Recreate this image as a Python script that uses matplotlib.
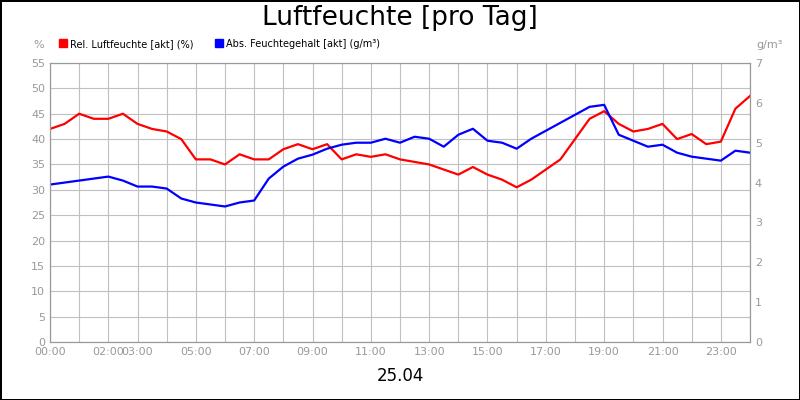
import matplotlib.pyplot as plt
import numpy as np

hours = np.arange(0, 24.01, 0.5)
rel_hum = [42, 43, 45, 44, 44, 45, 43, 42, 41.5, 40, 36, 36, 35, 37, 36, 36,
           38, 39, 38, 39, 36, 37, 36.5, 37, 36, 35.5, 35, 34, 33, 34.5, 33,
           32, 30.5, 32, 34, 36, 40, 44, 45.5, 43, 41.5, 42, 43, 40, 41, 39,
           39.5, 46, 48.5]
abs_hum = [3.95, 4.0, 4.05, 4.1, 4.15, 4.05, 3.9, 3.9, 3.85, 3.6, 3.5, 3.45,
           3.4, 3.5, 3.55, 4.1, 4.4, 4.6, 4.7, 4.85, 4.95, 5.0, 5.0, 5.1, 5.0,
           5.15, 5.1, 4.9, 5.2, 5.35, 5.05, 5.0, 4.85, 5.1, 5.3, 5.5, 5.7, 5.9,
           5.95, 5.2, 5.05, 4.9, 4.95, 4.75, 4.65, 4.6, 4.55, 4.8, 4.75]
tick_hours = [0, 2, 3, 5, 7, 9, 11, 13, 15, 17, 19, 21, 23]

fig = plt.figure(figsize=(8, 4), dpi=100)
fig.patch.set_edgecolor("black")
fig.patch.set_linewidth(2)
ax = fig.add_axes([0.0625, 0.145, 0.875, 0.6975])
ax.plot(hours, rel_hum, color="#ff0000", lw=1.6)
ax.set_xlim(0, 24)
ax.set_ylim(0, 55)
ax.set_yticks(range(0, 56, 5))
ax.set_xticks(range(0, 25), minor=True)
ax.set_xticks(tick_hours)
ax.set_xticklabels([f"{h:02d}:00" for h in tick_hours])
ax.grid(True, which="both", color="#c0c0c0", lw=0.8)
ax.set_axisbelow(True)
ax.tick_params(colors="#999999", labelsize=8, length=0, which="both")
for s in ax.spines.values():
    s.set_color("#999999")

ax2 = ax.twinx()
ax2.plot(hours, abs_hum, color="#0000ff", lw=1.6)
ax2.set_ylim(0, 7)
ax2.set_yticks(range(0, 8))
ax2.tick_params(colors="#999999", labelsize=8, length=0)
for s in ax2.spines.values():
    s.set_color("#999999")

fig.text(0.5, 0.955, "Luftfeuchte [pro Tag]", ha="center", va="center", fontsize=19)
fig.text(0.5, 0.06, "25.04", ha="center", va="center", fontsize=12)
fig.text(0.055, 0.88, "%", ha="right", fontsize=8, color="#999999")
fig.text(0.945, 0.88, "g/m³", ha="left", fontsize=8, color="#999999")
fig.patches.append(plt.Rectangle((0.074, 0.882), 0.01, 0.02, color="#ff0000", transform=fig.transFigure, figure=fig))
fig.text(0.088, 0.882, "Rel. Luftfeuchte [akt] (%)", fontsize=7)
fig.patches.append(plt.Rectangle((0.269, 0.882), 0.01, 0.02, color="#0000ff", transform=fig.transFigure, figure=fig))
fig.text(0.283, 0.882, "Abs. Feuchtegehalt [akt] (g/m³)", fontsize=7)
fig.savefig("out.png", dpi=100)
